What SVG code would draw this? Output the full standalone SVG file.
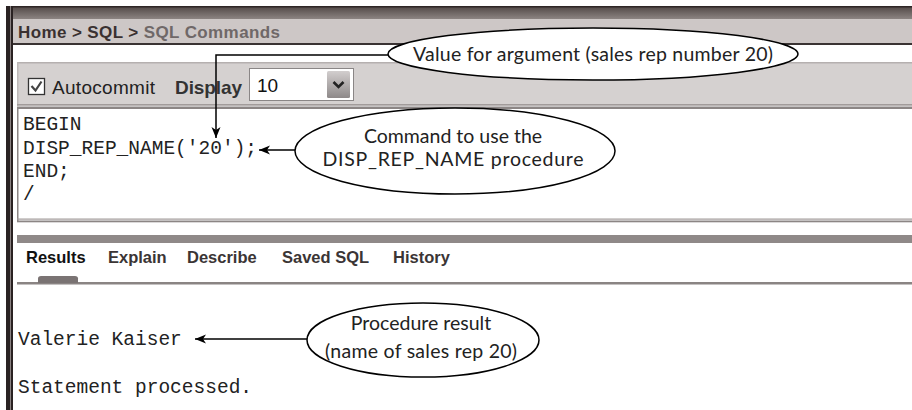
<svg xmlns="http://www.w3.org/2000/svg" width="912" height="410" viewBox="0 0 912 410">
  <defs>
    <linearGradient id="topband" x1="0" y1="0" x2="0" y2="1">
      <stop offset="0" stop-color="#4f4644"/>
      <stop offset="1" stop-color="#8c8482"/>
    </linearGradient>
    <linearGradient id="btn" x1="0" y1="0" x2="0" y2="1">
      <stop offset="0" stop-color="#d2cece"/>
      <stop offset="1" stop-color="#8e8989"/>
    </linearGradient>
    <marker id="ah" markerWidth="12" markerHeight="10" refX="11" refY="4.5" orient="auto" markerUnits="userSpaceOnUse">
      <path d="M0,0 L11,4.5 L0,9 L3,4.5 z" fill="#000"/>
    </marker>
    <style>
      .ui { font-family: "Liberation Sans", Arial, sans-serif; }
      .uib { font-family: "Liberation Sans", Arial, sans-serif; font-weight: bold; }
      .code { font-family: "Liberation Mono", "Courier New", monospace; font-size: 19.5px; fill: #222; }
      .tab { font-family: "Liberation Sans", Arial, sans-serif; font-weight: bold; font-size: 16.5px; fill: #3b3535; }
      .callout ellipse { fill: #fff; stroke: #000; stroke-width: 1.5; }
      .callout text { font-family: Lato, "Open Sans", sans-serif; font-size: 19.5px; fill: #222; text-anchor: middle; }
      .conn { fill: none; stroke: #000; stroke-width: 1.5; marker-end: url(#ah); }
    </style>
  </defs>

  <rect width="912" height="410" fill="#fff"/>

  <!-- window frame -->
  <rect x="6" y="6" width="906" height="13" fill="url(#topband)"/>
  <rect x="6" y="6" width="906" height="1.5" fill="#2e2626"/>
  <rect x="6" y="6" width="7" height="404" fill="#2a2222"/>
  <rect x="10" y="6" width="1" height="404" fill="#8a8282"/>

  <!-- breadcrumb bar -->
  <rect x="13" y="19" width="899" height="24" fill="#cdc7c6"/>
  <rect x="13" y="43" width="899" height="2" fill="#3a3333"/>
  <text class="uib" x="18" y="38" font-size="17" textLength="262"><tspan fill="#3a3131">Home &gt; SQL &gt; </tspan><tspan fill="#6f6868">SQL Commands</tspan></text>

  <!-- toolbar -->
  <rect x="17" y="62" width="895" height="44" fill="#d5d1d0"/>
  <rect x="17" y="62" width="895" height="1.5" fill="#b5b0af"/>
  <rect x="17" y="62" width="1.5" height="44" fill="#bdb8b7"/>
  <rect x="17" y="104" width="895" height="1.5" fill="#a19b9a"/>
  <rect x="17" y="106.5" width="895" height="2.5" fill="#8c8685"/>
  <rect x="28.5" y="78.5" width="16" height="16" fill="#fff" stroke="#333" stroke-width="1.3"/>
  <path d="M31.5,86 L35.5,90.5 L41.5,81.5" fill="none" stroke="#444" stroke-width="2.2"/>
  <text class="ui" x="52" y="94" font-size="19" fill="#222" textLength="103">Autocommit</text>
  <text class="uib" x="175" y="94" font-size="19" fill="#333" textLength="67">Display</text>
  <rect x="249.5" y="68.5" width="104" height="32" fill="#fff" stroke="#8a8686" stroke-width="1"/>
  <text class="ui" x="257" y="92" font-size="19" fill="#111">10</text>
  <rect x="327" y="71" width="23" height="27" rx="1.5" fill="url(#btn)"/>
  <path d="M333.5,82 L338.5,87 L343.5,82" fill="none" stroke="#222" stroke-width="2.6"/>

  <!-- code area -->
  <rect x="17" y="109" width="895" height="111" fill="#fff"/>
  <rect x="17" y="109" width="1.5" height="112" fill="#8c8685"/>
  <rect x="17" y="218.5" width="895" height="1.2" fill="#a19b9a"/>
  <rect x="17" y="220.5" width="895" height="1.8" fill="#8c8685"/>
  <text class="code" x="23" y="130">BEGIN</text>
  <text class="code" x="23" y="153.5">DISP_REP_NAME('20');</text>
  <text class="code" x="23" y="177">END;</text>
  <text class="code" x="23" y="200">/</text>

  <!-- results tabs -->
  <rect x="17" y="235" width="895" height="8" fill="#8f8988"/>
  <text class="tab" x="26" y="263" style="fill:#111">Results</text>
  <text class="tab" x="108" y="263">Explain</text>
  <text class="tab" x="187" y="263">Describe</text>
  <text class="tab" x="282" y="263">Saved SQL</text>
  <text class="tab" x="393" y="263">History</text>
  <rect x="17" y="282" width="895" height="2.5" fill="#8a8483"/>
  <path d="M38,283 L38,278.5 Q38,276 41,276 L75,276 Q78,276 78,278.5 L78,283 z" fill="#7a7373"/>

  <!-- output -->
  <text class="code" x="18" y="345">Valerie Kaiser</text>
  <text class="code" x="18" y="393">Statement processed.</text>

  <!-- connectors -->
  <g id="connectors">
    <path class="conn" d="M388,55 H216 V138"/>
    <path class="conn" d="M295,150 H259"/>
    <path class="conn" d="M307,339 H195"/>
  </g>

  <!-- callouts -->
  <g id="callout-value" class="callout">
    <ellipse cx="593" cy="54" rx="205" ry="26"/>
    <text x="593" y="61" textLength="360">Value for argument (sales rep number 20)</text>
  </g>
  <g id="callout-command" class="callout">
    <ellipse cx="455" cy="151" rx="160" ry="43"/>
    <text x="453" y="143">Command to use the</text>
    <text x="453" y="166" textLength="261">DISP_REP_NAME procedure</text>
  </g>
  <g id="callout-result" class="callout">
    <ellipse cx="423" cy="340" rx="116" ry="37"/>
    <text x="421" y="330">Procedure result</text>
    <text x="421" y="358" textLength="192">(name of sales rep 20)</text>
  </g>
</svg>
